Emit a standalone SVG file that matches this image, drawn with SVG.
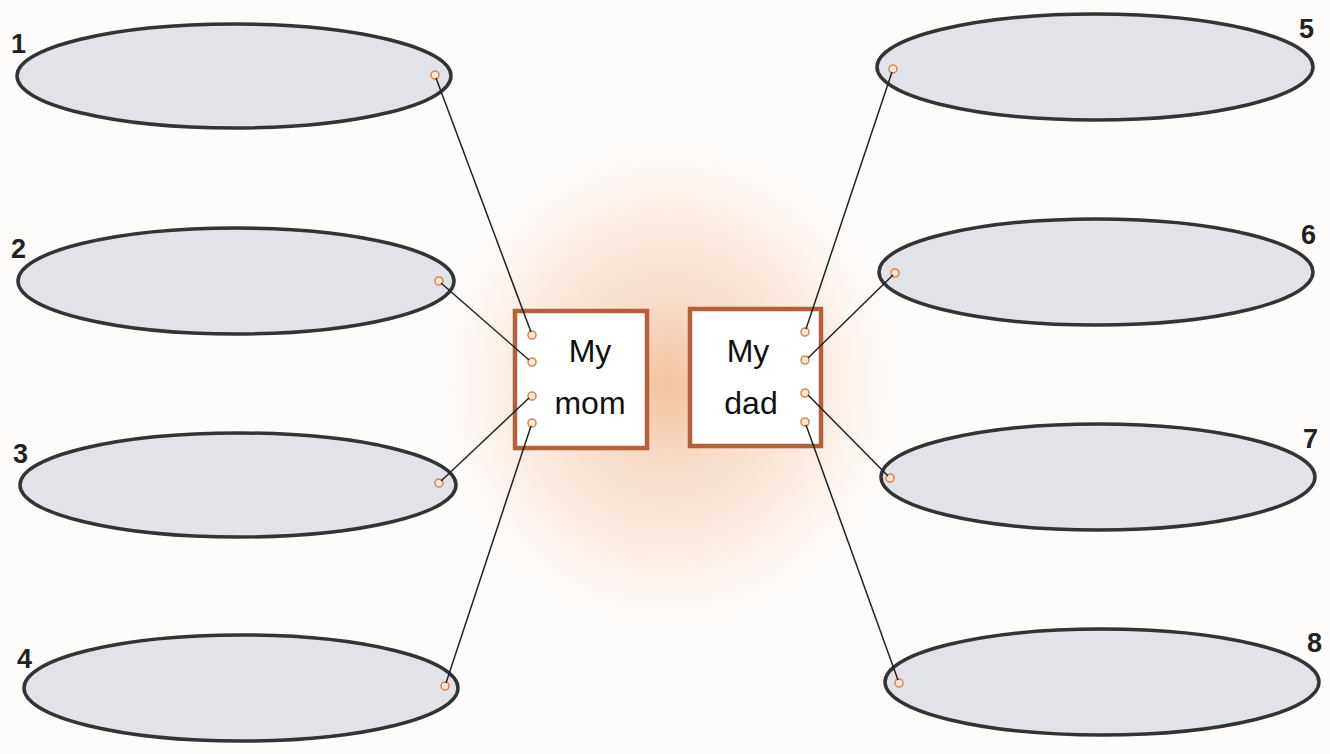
<svg xmlns="http://www.w3.org/2000/svg" width="1330" height="754" viewBox="0 0 1330 754">
<defs>
<radialGradient id="glow" cx="668" cy="385" r="260" gradientUnits="userSpaceOnUse" gradientTransform="translate(668 385) scale(1 1.05) translate(-668 -385)">
<stop offset="0" stop-color="#f2c3a0"/>
<stop offset="0.3" stop-color="#f7dcc8"/>
<stop offset="0.65" stop-color="#fbefe6"/>
<stop offset="1" stop-color="#ffffff" stop-opacity="0"/>
</radialGradient>
<style>
.oval{fill:#e2e3e8;stroke:#333;stroke-width:3.5}
.num{font-family:"Liberation Sans",Arial,sans-serif;font-weight:bold;font-size:27px;fill:#222}
.box{fill:#fff;stroke:#b4603a;stroke-width:4.5}
.lbl{font-family:"Liberation Sans",Arial,sans-serif;font-size:32px;fill:#111;text-anchor:middle}
.pin{fill:#fbe6d6;stroke:#d98a5a;stroke-width:1.6}
.wire{stroke:#222;stroke-width:1.5;fill:none}
</style>
</defs>
<rect width="1330" height="754" fill="#fdfcfb"/>
<rect width="1330" height="754" fill="url(#glow)"/>
<g id="oval1"><ellipse class="oval" cx="234" cy="76" rx="217" ry="52"/><circle class="pin" cx="435" cy="75" r="4"/><text class="num" x="11" y="53">1</text></g>
<g id="oval2"><ellipse class="oval" cx="236" cy="281" rx="218" ry="53"/><circle class="pin" cx="439" cy="281" r="4"/><text class="num" x="11" y="258">2</text></g>
<g id="oval3"><ellipse class="oval" cx="238" cy="485" rx="218" ry="52"/><circle class="pin" cx="439" cy="483" r="4"/><text class="num" x="13" y="463">3</text></g>
<g id="oval4"><ellipse class="oval" cx="241" cy="688" rx="217" ry="53"/><circle class="pin" cx="445" cy="686" r="4"/><text class="num" x="17" y="668">4</text></g>
<g id="oval5"><ellipse class="oval" cx="1095" cy="67" rx="218" ry="53"/><circle class="pin" cx="893" cy="69" r="4"/><text class="num" x="1299" y="38">5</text></g>
<g id="oval6"><ellipse class="oval" cx="1096" cy="272" rx="217" ry="53"/><circle class="pin" cx="895" cy="273" r="4"/><text class="num" x="1301" y="244">6</text></g>
<g id="oval7"><ellipse class="oval" cx="1098" cy="477" rx="217" ry="53"/><circle class="pin" cx="890" cy="478" r="4"/><text class="num" x="1303" y="448">7</text></g>
<g id="oval8"><ellipse class="oval" cx="1102" cy="682" rx="217" ry="53"/><circle class="pin" cx="899" cy="683" r="4"/><text class="num" x="1307" y="652">8</text></g>
<g id="mom">
<rect class="box" x="515" y="311" width="132" height="137"/>
<text class="lbl" x="590" y="362">My</text>
<text class="lbl" x="590" y="414">mom</text>
<circle class="pin" cx="532" cy="335" r="4"/><circle class="pin" cx="532" cy="362" r="4"/><circle class="pin" cx="532" cy="396" r="4"/><circle class="pin" cx="532" cy="423" r="4"/>
</g>
<g id="dad">
<rect class="box" x="690" y="309" width="131" height="137"/>
<text class="lbl" x="748" y="362">My</text>
<text class="lbl" x="751" y="414">dad</text>
<circle class="pin" cx="805" cy="332" r="4"/><circle class="pin" cx="805" cy="360" r="4"/><circle class="pin" cx="805" cy="393" r="4"/><circle class="pin" cx="805" cy="422" r="4"/>
</g>
<g id="connectors">
<line class="wire" x1="436" y1="78" x2="531" y2="332"/>
<line class="wire" x1="441" y1="283" x2="529" y2="360"/>
<line class="wire" x1="441" y1="481" x2="529" y2="398"/>
<line class="wire" x1="446" y1="683" x2="531" y2="426"/>
<line class="wire" x1="892" y1="72" x2="806" y2="329"/>
<line class="wire" x1="893" y1="275" x2="808" y2="358"/>
<line class="wire" x1="888" y1="476" x2="808" y2="395"/>
<line class="wire" x1="898" y1="680" x2="806" y2="425"/>
</g>
</svg>
